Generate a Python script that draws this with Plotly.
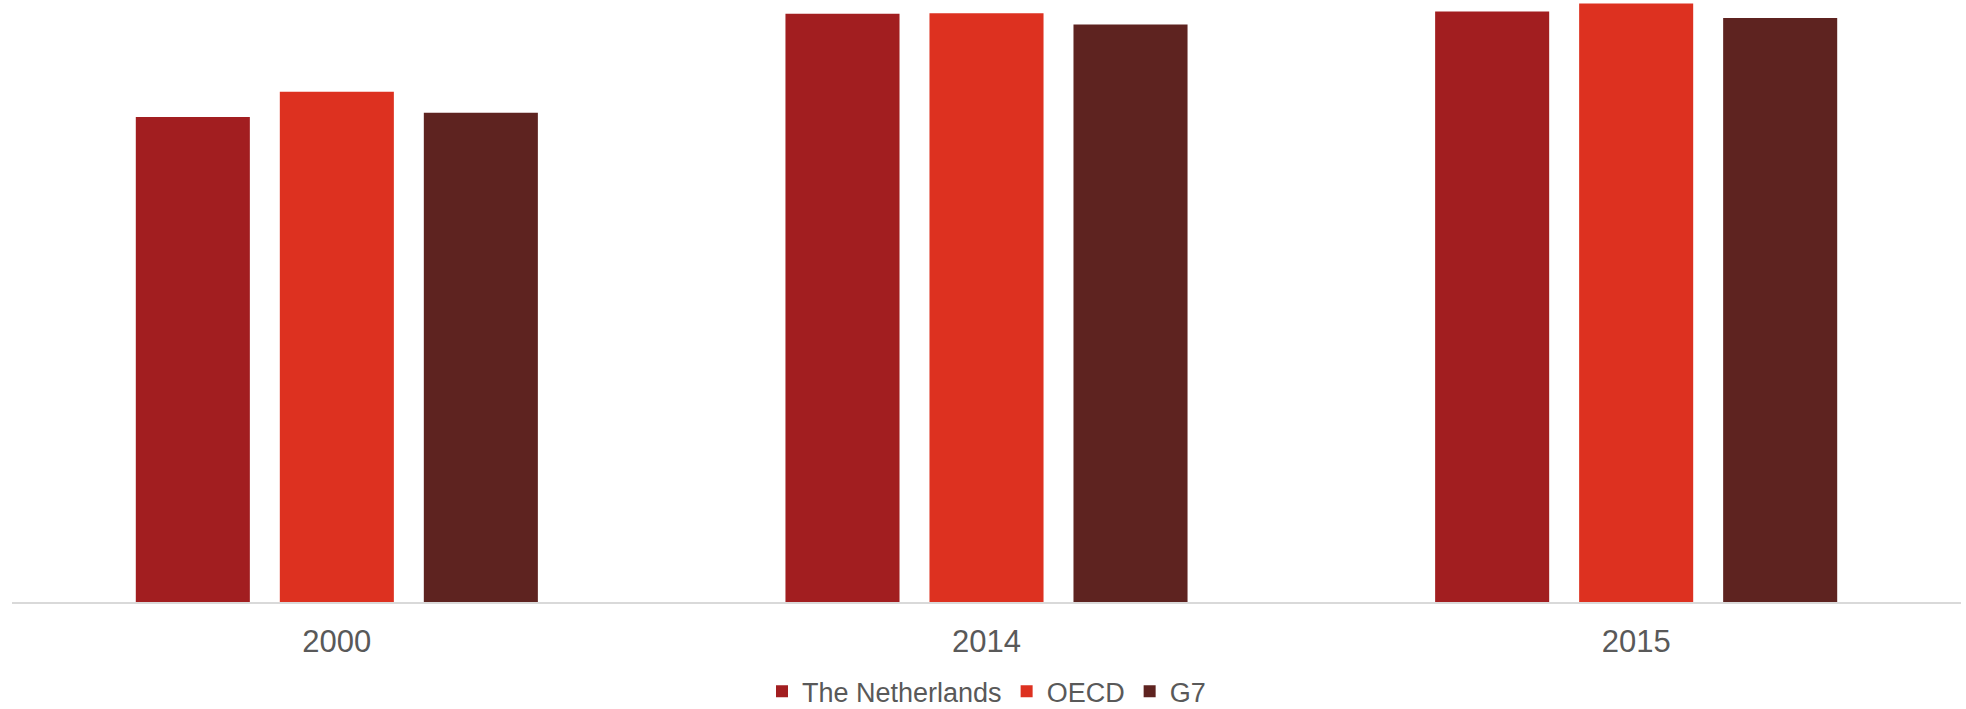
import plotly.graph_objects as go

categories = ["2000", "2014", "2015"]
netherlands = [80.8, 98.0, 98.4]
oecd = [85.0, 98.1, 99.7]
g7 = [81.5, 96.2, 97.3]

series_names = ["The Netherlands", "OECD", "G7"]
series_colors = ["#A21E20", "#DD3120", "#5E2320"]

fig = go.Figure()
for name, vals, col in zip(series_names, [netherlands, oecd, g7], series_colors):
    fig.add_trace(go.Bar(name=name, x=categories, y=vals,
                         marker=dict(color=col, line=dict(width=0))))

fig.update_layout(
    width=1966, height=709,
    margin=dict(l=12, r=5, t=0, b=107, pad=0, autoexpand=False),
    paper_bgcolor="white", plot_bgcolor="white",
    barmode="group", bargap=0.335, bargroupgap=0.208,
    font=dict(family="Liberation Sans, Arial, sans-serif", color="#595959"),
    showlegend=True,
    legend=dict(orientation="h", x=0.5, xanchor="center", y=-0.149, yanchor="middle",
                font=dict(size=27, color="#595959"), bgcolor="rgba(0,0,0,0)",
                traceorder="normal"),
    xaxis=dict(showline=True, linecolor="#D9D9D9", linewidth=2, showgrid=False,
               ticks="", ticklabelstandoff=11,
               tickfont=dict(size=31, color="#595959"), zeroline=False),
    yaxis=dict(visible=False, range=[0, 100.3], showgrid=False, zeroline=False),
)

fig.write_html("out.html")
